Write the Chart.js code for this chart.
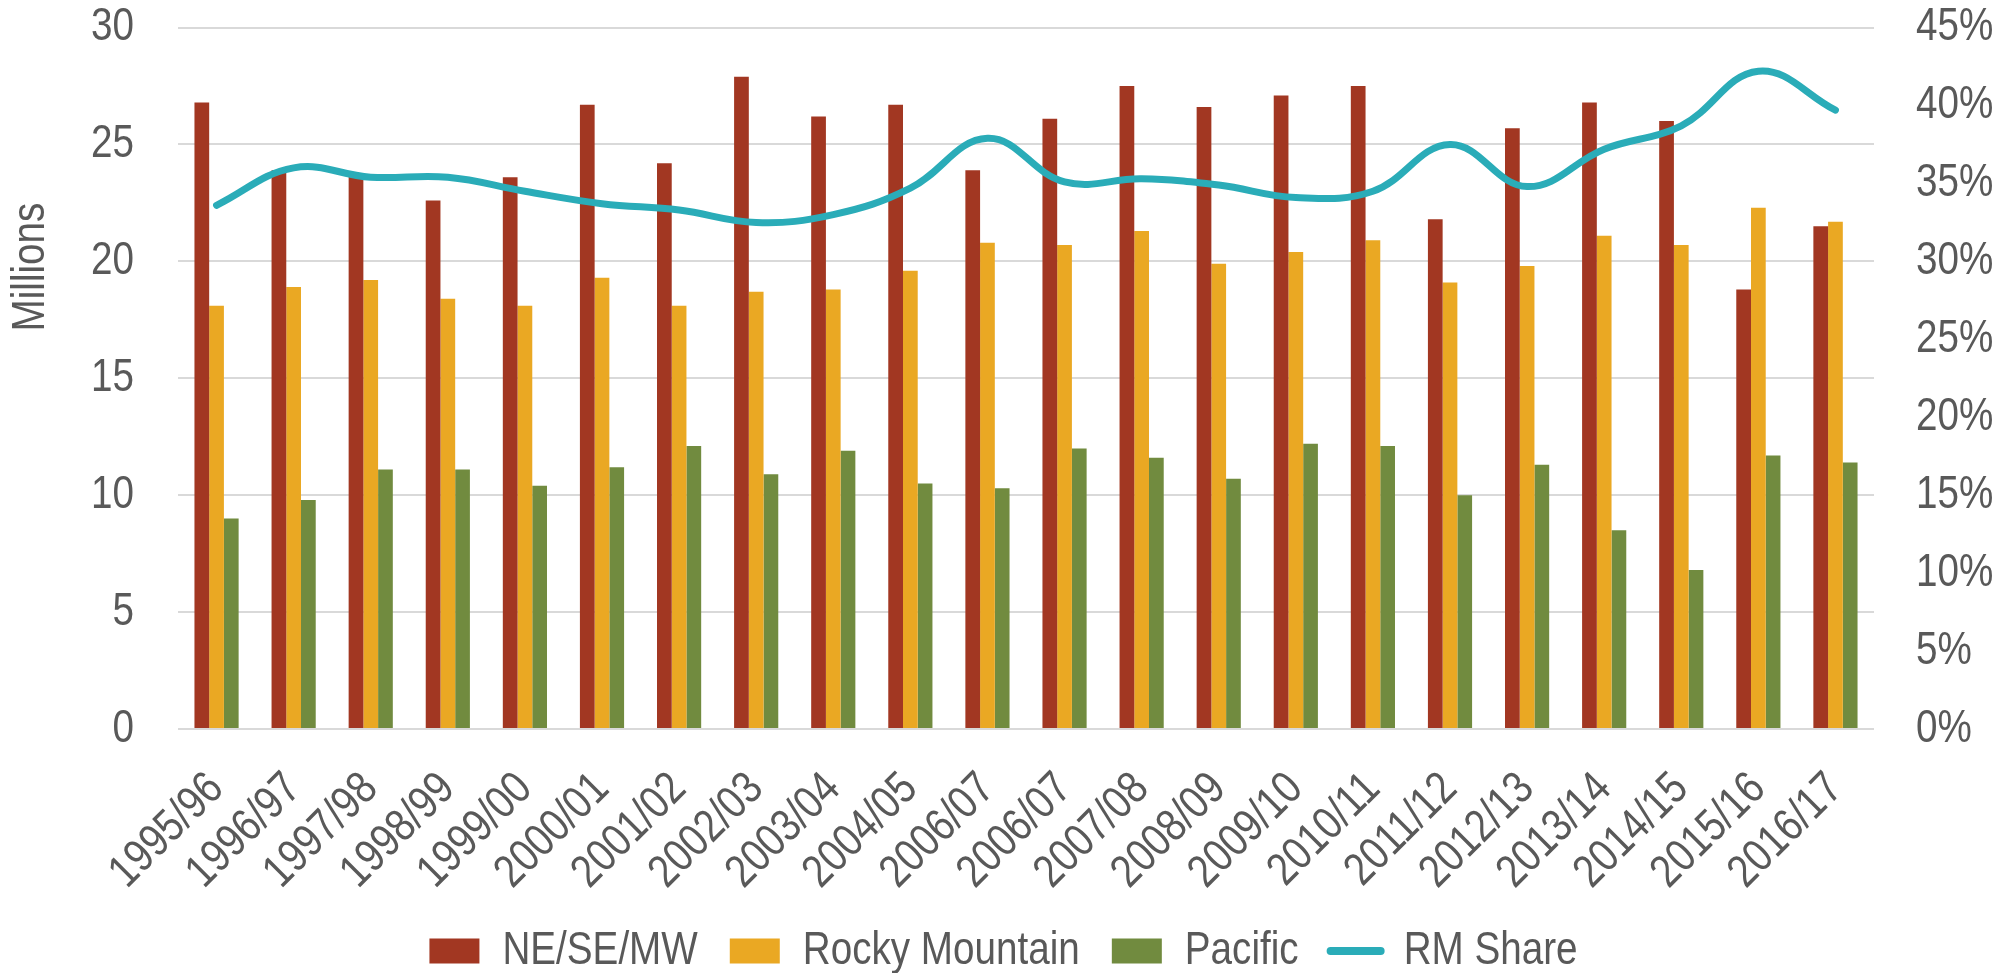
<!DOCTYPE html>
<html>
<head>
<meta charset="utf-8">
<title>Visits by region, 1995/96 – 2016/17</title>
<script src="https://cdn.jsdelivr.net/npm/chart.js@4.4.1/dist/chart.umd.min.js"></script>
<style>
  html, body { margin: 0; padding: 0; background: #ffffff; }
  #wrap { width: 2007px; height: 973px; position: relative; }
</style>
</head>
<body>
<div id="wrap"><canvas id="chart" width="2007" height="973"></canvas></div>
<script>
// Season labels (the 2006/07 season appears twice in the source series)
const seasons = [
  '1995/96', '1996/97', '1997/98', '1998/99', '1999/00', '2000/01', '2001/02',
  '2002/03', '2003/04', '2004/05', '2006/07', '2006/07', '2007/08', '2008/09',
  '2009/10', '2010/11', '2011/12', '2012/13', '2013/14', '2014/15', '2015/16', '2016/17'
];

// Visits, millions
const neSeMw = [
  26.8, 23.9, 23.7, 22.6, 23.6, 26.7, 24.2, 27.9, 26.2, 26.7, 23.9,
  26.1, 27.5, 26.6, 27.1, 27.5, 21.8, 25.7, 26.8, 26.0, 18.8, 21.5
];
const rockyMountain = [
  18.1, 18.9, 19.2, 18.4, 18.1, 19.3, 18.1, 18.7, 18.8, 19.6, 20.8,
  20.7, 21.3, 19.9, 20.4, 20.9, 19.1, 19.8, 21.1, 20.7, 22.3, 21.7
];
const pacific = [
  9.0, 9.8, 11.1, 11.1, 10.4, 11.2, 12.1, 10.9, 11.9, 10.5, 10.3,
  12.0, 11.6, 10.7, 12.2, 12.1, 10.0, 11.3, 8.5, 6.8, 11.7, 11.4
];

// Rocky Mountain share of all visits
const rmShare = [
  0.336, 0.360, 0.354, 0.354, 0.345, 0.337, 0.333, 0.325, 0.330, 0.347, 0.379,
  0.351, 0.353, 0.349, 0.341, 0.345, 0.375, 0.348, 0.372, 0.387, 0.422, 0.397
];

// Axis tick values
const millionsTicks = [0, 5, 10, 15, 20, 25, 30];
const shareTicks = [0, 0.05, 0.10, 0.15, 0.20, 0.25, 0.30, 0.35, 0.40, 0.45];

const FONT_FAMILY = "'Liberation Sans Narrow', 'Arial Narrow', 'Liberation Sans', Arial, sans-serif";
const TEXT_COLOR = '#595959';
const FONT = { family: FONT_FAMILY, size: 46 };
const NARROW = 0.84;   // horizontal squeeze for a narrow-style typeface

// No narrow face is installed, so text on this canvas is drawn and measured
// horizontally condensed (along the text's own direction).
function condenseText(context) {
  const fill = context.fillText;
  const measure = context.measureText;
  context.fillText = function (text, x, y, maxWidth) {
    this.save();
    this.translate(x, y);
    this.scale(NARROW, 1);
    if (maxWidth !== undefined) {
      fill.call(this, text, 0, 0, maxWidth / NARROW);
    } else {
      fill.call(this, text, 0, 0);
    }
    this.restore();
  };
  context.measureText = function (text) {
    const m = measure.call(this, text);
    return {
      width: m.width * NARROW,
      actualBoundingBoxLeft: m.actualBoundingBoxLeft * NARROW,
      actualBoundingBoxRight: m.actualBoundingBoxRight * NARROW,
      actualBoundingBoxAscent: m.actualBoundingBoxAscent,
      actualBoundingBoxDescent: m.actualBoundingBoxDescent,
      fontBoundingBoxAscent: m.fontBoundingBoxAscent,
      fontBoundingBoxDescent: m.fontBoundingBoxDescent
    };
  };
}

// Vertical "Millions" caption beside the left axis
const millionsCaption = {
  id: 'millionsCaption',
  afterDraw(chart) {
    const ctx = chart.ctx;
    ctx.save();
    ctx.font = `46px ${FONT_FAMILY}`;
    ctx.fillStyle = TEXT_COLOR;
    ctx.textAlign = 'center';
    ctx.textBaseline = 'middle';
    ctx.translate(31, 267);
    ctx.rotate(-Math.PI / 2);
    ctx.fillText('Millions', 0, 0);
    ctx.restore();
  }
};

const canvas = document.getElementById('chart');
const ctx = canvas.getContext('2d');
condenseText(ctx);

new Chart(ctx, {
  data: {
    labels: seasons,
    datasets: [
      {
        type: 'bar', label: 'NE/SE/MW', data: neSeMw, yAxisID: 'y',
        backgroundColor: '#A23722', order: 1
      },
      {
        type: 'bar', label: 'Rocky Mountain', data: rockyMountain, yAxisID: 'y',
        backgroundColor: '#EAA823', order: 1
      },
      {
        type: 'bar', label: 'Pacific', data: pacific, yAxisID: 'y',
        backgroundColor: '#718B3F', order: 1
      },
      {
        type: 'line', label: 'RM Share', data: rmShare, yAxisID: 'y1',
        borderColor: '#2AACB8', backgroundColor: '#2AACB8',
        borderWidth: 7, borderCapStyle: 'round', borderJoinStyle: 'round',
        pointRadius: 0, pointHoverRadius: 0, tension: 0.4, order: 0
      }
    ]
  },
  options: {
    responsive: false,
    animation: false,
    maintainAspectRatio: false,
    layout: { padding: { top: 0, right: 0, bottom: -11, left: 0 } },
    datasets: {
      bar: { categoryPercentage: 0.573, barPercentage: 1.0, borderWidth: 0 }
    },
    plugins: {
      tooltip: { enabled: false },
      title: { display: false },
      legend: {
        position: 'bottom',
        labels: {
          font: FONT,
          color: TEXT_COLOR,
          usePointStyle: true,
          pointStyleWidth: 50,
          boxHeight: 25,
          padding: 32,
          sort: (a, b) => a.datasetIndex - b.datasetIndex,
          generateLabels(chart) {
            const items = Chart.defaults.plugins.legend.labels.generateLabels(chart);
            return items.map(item => {
              const ds = chart.data.datasets[item.datasetIndex];
              if (ds.type === 'line') {
                item.pointStyle = 'line';
                item.lineWidth = 8;
                item.lineCap = 'round';
                item.strokeStyle = ds.borderColor;
              } else {
                item.pointStyle = 'rect';
                item.lineWidth = 0;
              }
              return item;
            });
          }
        }
      }
    },
    scales: {
      x: {
        grid: { display: false },
        border: { display: false },
        ticks: {
          font: FONT, color: TEXT_COLOR,
          minRotation: 45, maxRotation: 45, autoSkip: false, padding: 25
        },
        afterFit(scale) { scale.height = 167; }
      },
      y: {
        position: 'left',
        min: 0, max: 30,
        grid: {
          color: '#D9D9D9', lineWidth: 2,
          drawTicks: true, tickLength: 44, tickColor: 'rgba(0,0,0,0)'
        },
        border: { display: false },
        ticks: { font: FONT, color: TEXT_COLOR, padding: 0 },
        afterBuildTicks(scale) { scale.ticks = millionsTicks.map(v => ({ value: v })); },
        afterFit(scale) { scale.width = 178; }
      },
      y1: {
        position: 'right',
        min: 0, max: 0.45,
        grid: {
          drawOnChartArea: false, color: 'rgba(0,0,0,0)',
          drawTicks: true, tickLength: 42, tickColor: 'rgba(0,0,0,0)'
        },
        border: { display: false },
        ticks: {
          font: FONT, color: TEXT_COLOR, padding: 0,
          callback: v => Math.round(v * 100) + '%'
        },
        afterBuildTicks(scale) { scale.ticks = shareTicks.map(v => ({ value: v })); },
        afterFit(scale) { scale.width = 133; }
      }
    }
  },
  plugins: [millionsCaption]
});
</script>
</body>
</html>
